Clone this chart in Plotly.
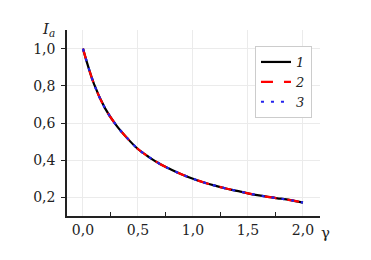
import plotly.graph_objects as go

gamma = [0.0, 0.1, 0.2, 0.3, 0.4, 0.5, 0.6, 0.7, 0.8, 0.9, 1.0,
         1.1, 1.2, 1.3, 1.4, 1.5, 1.6, 1.7, 1.8, 1.9, 2.0]
ia_1 = [1.0, 0.81, 0.68, 0.59, 0.52, 0.46, 0.417, 0.38, 0.35, 0.323, 0.30,
        0.28, 0.263, 0.248, 0.235, 0.222, 0.211, 0.201, 0.193, 0.184, 0.172]
ia_2 = list(ia_1)
ia_3 = list(ia_1)
names = ["1", "2", "3"]
x_ticks = [0.0, 0.5, 1.0, 1.5, 2.0]
y_ticks = [0.2, 0.4, 0.6, 0.8, 1.0]

SERIF = "DejaVu Serif"

# page has an 8px body margin, so the figure is offset by 8px in the window
W, H = 363, 244
ML, MR, MT, MB = 59, 51, 22, 36
PW, PH = W - ML - MR, H - MT - MB

fig = go.Figure()
styles = [("black", "solid"), ("#ff0000", "12px,11px"), ("#2222ee", "3px,7px")]
for ys, nm, (col, dash) in zip([ia_1, ia_2, ia_3], names, styles):
    fig.add_trace(go.Scatter(x=gamma, y=ys, mode="lines", name=f"<i>{nm}</i>",
                             line=dict(color=col, dash=dash, width=2.2, shape="spline")))

fig.update_layout(
    width=W, height=H,
    margin=dict(l=ML, r=MR, t=MT, b=MB, pad=0),
    paper_bgcolor="white", plot_bgcolor="white",
    separators=", ",
    font=dict(family=SERIF, size=14, color="#222"),
    showlegend=True,
    legend=dict(x=0.743, y=0.914, xanchor="left", yanchor="top",
                bordercolor="#cccccc", borderwidth=1, bgcolor="white",
                font=dict(family=SERIF, size=13, color="#222"),
                tracegroupgap=0, itemwidth=30),
    xaxis=dict(range=[-0.145, 2.155], tickvals=x_ticks, tickformat=".1f",
               showgrid=True, gridcolor="#ebebeb", gridwidth=1,
               showline=True, linecolor="#222", linewidth=1.5,
               ticks="", zeroline=False, ticklabelstandoff=0,
               minor=dict(tickvals=[0.25, 0.75, 1.25, 1.75], ticks="inside",
                          ticklen=4, tickcolor="#222", showgrid=False),
               tickfont=dict(family=SERIF, size=14)),
    yaxis=dict(range=[0.1, 1.1], tickvals=y_ticks, tickformat=".1f",
               showgrid=True, gridcolor="#ebebeb", gridwidth=1,
               showline=True, linecolor="#222", linewidth=1.5,
               ticks="outside", ticklen=4, tickcolor="#222", zeroline=False,
               ticklabelstandoff=3,
               tickfont=dict(family=SERIF, size=14)),
    shapes=[dict(type="line", xref="paper", yref="paper",
                 x0=(360 - ML) / PW, x1=(360 - ML) / PW,
                 y0=(PH + MT - 0) / PH, y1=(PH + MT - 17) / PH,
                 line=dict(color="black", width=1.5))],
)

fig.add_annotation(text="<i>I<sub>a</sub></i>", xref="paper", yref="paper",
                   x=-19 / PW, y=1.005, xanchor="center", yanchor="middle",
                   showarrow=False, font=dict(family=SERIF, size=15, color="#222"))
fig.add_annotation(text="γ", xref="paper", yref="paper",
                   x=0.995, y=-17 / PH, xanchor="left", yanchor="middle",
                   showarrow=False, font=dict(family=SERIF, size=15, color="#222"))

fig.write_html("out.html")
